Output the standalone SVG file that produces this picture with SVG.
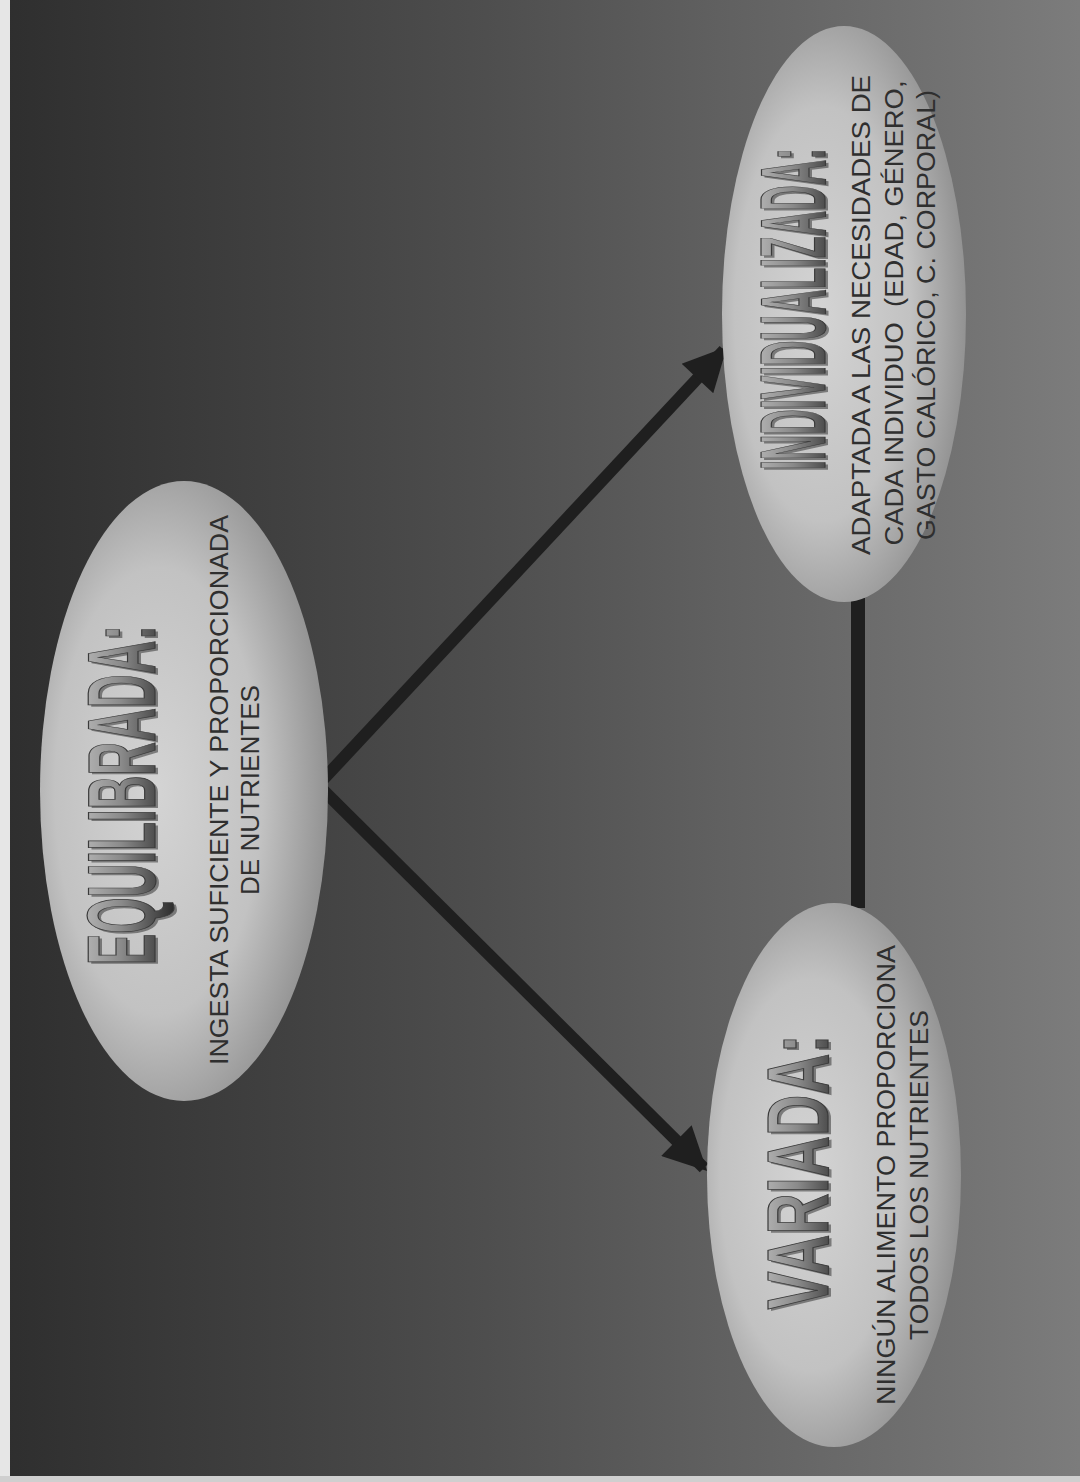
<svg xmlns="http://www.w3.org/2000/svg" width="1080" height="1482" viewBox="0 0 1080 1482">
<defs>
<linearGradient id="bg" x1="0" y1="0" x2="1" y2="0">
<stop offset="0" stop-color="#2e2e2e"/>
<stop offset="0.45" stop-color="#4e4e4e"/>
<stop offset="1" stop-color="#7c7c7c"/>
</linearGradient>
<radialGradient id="ell" cx="0.42" cy="0.5" r="0.6" fx="0.4" fy="0.5">
<stop offset="0" stop-color="#d4d4d4"/>
<stop offset="0.6" stop-color="#c2c2c2"/>
<stop offset="1" stop-color="#8e8e8e"/>
</radialGradient>
<linearGradient id="tg" x1="0" y1="0" x2="0" y2="1">
<stop offset="0" stop-color="#c4c4c4"/>
<stop offset="0.5" stop-color="#8a8a8a"/>
<stop offset="1" stop-color="#2a2a2a"/>
</linearGradient>
<marker id="ah" viewBox="0 0 10 10" refX="9" refY="5" markerWidth="4.2" markerHeight="3.6" orient="auto" markerUnits="strokeWidth">
<path d="M0,0 L10,5 L0,10 z" fill="#1f1f1f"/>
</marker>
<style>
.node ellipse{fill:url(#ell)}
.title{font-family:"Liberation Sans Narrow","Liberation Sans",Arial,sans-serif;font-weight:bold;fill:url(#tg);stroke:#3a3a3a;stroke-width:0.6}
.shadow{font-family:"Liberation Sans Narrow","Liberation Sans",Arial,sans-serif;font-weight:bold;fill:#2a2a2a;opacity:0.5}
.body{font-family:"Liberation Sans",Arial,sans-serif;font-size:26px;fill:#2f2f2f}
.conn{stroke:#1f1f1f;stroke-width:12;fill:none}
</style>
</defs>
<rect width="1080" height="1482" fill="url(#bg)"/>
<rect x="0" y="0" width="10" height="1482" fill="#e6e6e6"/>
<rect x="0" y="1476" width="1080" height="6" fill="#cfcfcf"/>

<g id="connectors">
<line class="conn" x1="318" y1="785" x2="724" y2="350" marker-end="url(#ah)"/>
<line class="conn" x1="318" y1="785" x2="704" y2="1168" marker-end="url(#ah)"/>
<line x1="858" y1="598" x2="858" y2="908" stroke="#1f1f1f" stroke-width="14"/>
</g>

<g id="node-equilibrada" class="node">
<ellipse cx="184" cy="791" rx="144" ry="310"/>
<text class="shadow" font-size="48" text-anchor="middle" textLength="340" lengthAdjust="spacingAndGlyphs" transform="translate(158,797) rotate(-90) scale(1,2)">EQUILIBRADA:</text>
<text class="title" font-size="48" text-anchor="middle" textLength="340" lengthAdjust="spacingAndGlyphs" transform="translate(155,795) rotate(-90) scale(1,2)">EQUILIBRADA:</text>
<text class="body" text-anchor="middle" textLength="550" lengthAdjust="spacingAndGlyphs" transform="translate(228,790) rotate(-90)">INGESTA SUFICIENTE Y PROPORCIONADA</text>
<text class="body" text-anchor="middle" textLength="210" lengthAdjust="spacingAndGlyphs" transform="translate(259,790) rotate(-90)">DE NUTRIENTES</text>
</g>

<g id="node-variada" class="node">
<ellipse cx="834" cy="1175" rx="127" ry="272"/>
<text class="shadow" font-size="44" text-anchor="middle" textLength="275" lengthAdjust="spacingAndGlyphs" transform="translate(831,1174) rotate(-90) scale(1,2)">VARIADA:</text>
<text class="title" font-size="44" text-anchor="middle" textLength="275" lengthAdjust="spacingAndGlyphs" transform="translate(828,1172) rotate(-90) scale(1,2)">VARIADA:</text>
<text class="body" text-anchor="middle" textLength="460" lengthAdjust="spacingAndGlyphs" transform="translate(895,1175) rotate(-90)">NINGÚN ALIMENTO PROPORCIONA</text>
<text class="body" text-anchor="middle" textLength="330" lengthAdjust="spacingAndGlyphs" transform="translate(928,1175) rotate(-90)">TODOS LOS NUTRIENTES</text>
</g>

<g id="node-individualizada" class="node">
<ellipse cx="844" cy="314" rx="122" ry="288"/>
<text class="shadow" font-size="46" text-anchor="middle" textLength="322" lengthAdjust="spacingAndGlyphs" transform="translate(828,311) rotate(-90) scale(1,2)">INDIVIDUALIZADA:</text>
<text class="title" font-size="46" text-anchor="middle" textLength="322" lengthAdjust="spacingAndGlyphs" transform="translate(825,309) rotate(-90) scale(1,2)">INDIVIDUALIZADA:</text>
<text class="body" text-anchor="middle" textLength="480" lengthAdjust="spacingAndGlyphs" transform="translate(870,315) rotate(-90)">ADAPTADA A LAS NECESIDADES DE</text>
<text class="body" xml:space="preserve" text-anchor="middle" textLength="465" lengthAdjust="spacingAndGlyphs" transform="translate(903,313) rotate(-90)">CADA INDIVIDUO  (EDAD, GÉNERO,</text>
<text class="body" text-anchor="middle" textLength="450" lengthAdjust="spacingAndGlyphs" transform="translate(935,315) rotate(-90)">GASTO CALÓRICO, C. CORPORAL)</text>
</g>
</svg>
